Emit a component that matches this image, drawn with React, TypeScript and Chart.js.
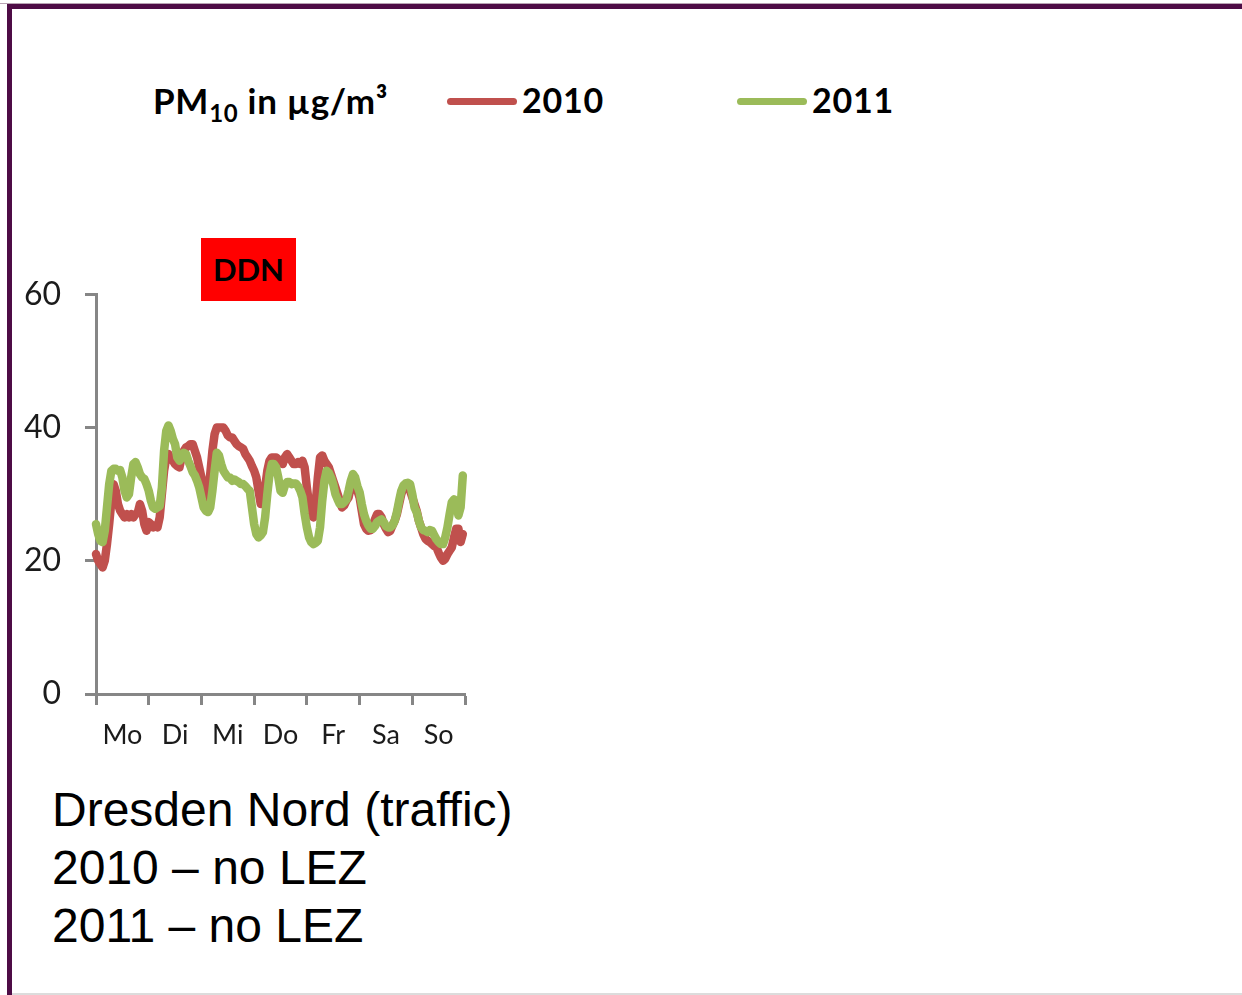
import React, { useEffect, useRef } from "react";
import { Chart, registerables } from "chart.js";

Chart.register(...registerables);

// Day-of-week categories (hour-of-week axis: 0..168)
const DAYS = ["Mo", "Di", "Mi", "Do", "Fr", "Sa", "So"];
const Y_TICKS = [0, 20, 40, 60];

// Hourly mean PM10 (µg/m³), Monday 00h .. Sunday 23h
const PM10_2010 = [
  21, 20, 19.5, 19, 20, 22.5, 25.5, 29, 31.5, 30.5, 28.5, 27.5,
  27, 26.5, 27, 26.5, 27, 26.5, 27, 27.2, 28.5, 27.5, 25.5, 24.5,
  25.8, 25.5, 25, 25.3, 25, 26.5, 30, 33.5, 35.5, 36, 35.3, 35,
  34.5, 34.2, 34, 35.5, 36.5, 37, 37.2, 37.5, 37.5, 36.5, 35.5, 34,
  32.5, 30.5, 29.5, 30, 33, 36.5, 39, 40, 40, 40, 40, 39.5,
  38.8, 38.5, 38.5, 38, 37.5, 37.2, 37, 36.8, 36, 35.5, 35, 34.2,
  33.5, 32.5, 30.5, 28.5, 29, 31, 33.5, 35, 35.5, 35.5, 35.5, 35.2,
  34.8, 34.5, 35.5, 36, 35.5, 35, 34.5, 34.5, 34.8, 34.5, 35, 34,
  31, 28.5, 26.8, 26.5, 28.5, 32.5, 35.5, 35.8, 35, 34.5, 34, 33,
  32, 31, 30, 29, 28, 28.3, 29, 29.5, 31, 32, 31.5, 30.5,
  29.5, 27.5, 25.5, 24.8, 24.5, 24.6, 25.3, 26.2, 27, 27, 26.5, 25.5,
  24.8, 24.3, 24.5, 25.3, 26, 27, 28.5, 30, 31, 31.5, 31.2, 30.5,
  29.5, 28.5, 27.5, 26, 25, 24, 23.3, 23, 22.8, 22.5, 22.2, 22,
  21.2, 20.5, 20, 20.3, 21, 21.5, 22, 23.5, 24.8, 24.8, 22.8, 24,
];

const PM10_2011 = [
  25.5, 24, 23, 22.8, 24.5, 28, 31.5, 33.5, 33.8, 33.8, 33.5, 33.6,
  32.5, 30.5, 29.5, 30, 32.5, 34.5, 34.8, 34, 33, 32.5, 32.3, 31.5,
  30.5, 29, 28, 27.8, 28, 28.2, 31, 36.5, 39.5, 40.3, 39.5, 38.3,
  37.5, 35.5, 35, 35.5, 36.2, 36, 35, 34.2, 33.3, 32.8, 32, 31,
  29.5, 28, 27.5, 27.3, 28, 30.5, 33.5, 36.2, 35.8, 34.5, 33.5, 33,
  32.5, 32.5, 32, 32.2, 32, 31.8, 31.5, 31.5, 31.2, 30.8, 30.5, 28,
  25.5, 24, 23.5, 23.8, 24.3, 26.5, 30, 33, 34.5, 34.5, 34, 32.5,
  30.5, 30.2, 31.3, 31.8, 31.8, 31.5, 31.6, 31.6, 31.2, 30.5, 29.5, 27,
  25, 23.5, 22.8, 22.5, 22.7, 23, 25, 29, 32, 33.5, 33.2, 32.5,
  31.5, 30, 29.2, 28.5, 28.5, 28.8, 29.2, 30.5, 32, 33, 32.5, 31.2,
  30.3, 28.5, 27, 26, 25.3, 24.8, 24.8, 25.2, 25.8, 26, 26.2, 25.8,
  25.2, 25, 25, 25.3, 26, 27.3, 29, 30.5, 31.3, 31.6, 31.7, 31.5,
  30, 28, 27.3, 26, 25, 24.6, 24.5, 24.3, 24.6, 24.5, 23.8, 23.2,
  22.8, 22.5, 22.5, 23.5, 25, 27, 28.8, 29.2, 29, 26.8, 28, 32.8,
];

const SERIES = [
  { label: "2011", values: PM10_2011, color: "#9BBB59" },
  { label: "2010", values: PM10_2010, color: "#C0504D" },
];

const AXIS_GREY = "#868686";
const TEXT = "#1b1b1b";

export default function App() {
  const canvasRef = useRef<HTMLCanvasElement | null>(null);

  useEffect(() => {
    if (!canvasRef.current) return;
    const hoursPerDay = 24;
    const maxHour = DAYS.length * hoursPerDay;
    const xTicks: number[] = [];
    for (let v = 0; v <= maxHour; v += hoursPerDay / 2) xTicks.push(v);

    const chart = new Chart(canvasRef.current, {
      type: "line",
      data: {
        datasets: SERIES.map((s, si) => ({
          label: s.label,
          data: s.values.map((v, i) => ({ x: i, y: v })),
          borderColor: s.color,
          backgroundColor: s.color,
          borderWidth: 8.5,
          pointRadius: 0,
          tension: 0,
          fill: false,
          clip: false as any,
          borderJoinStyle: "round" as const,
          borderCapStyle: "round" as const,
          order: si,
        })),
      },
      options: {
        animation: false,
        responsive: false,
        events: [],
        layout: { padding: { top: 10, right: 10, left: 0, bottom: 0 } },
        plugins: {
          legend: { display: false },
          tooltip: { enabled: false },
        },
        scales: {
          x: {
            type: "linear",
            min: 0,
            max: maxHour,
            afterBuildTicks: (axis: any) => {
              axis.ticks = xTicks.map((v) => ({ value: v }));
            },
            afterFit: (scale: any) => {
              scale.height = 60;
            },
            ticks: {
              autoSkip: false,
              maxRotation: 0,
              minRotation: 0,
              padding: 14,
              color: TEXT,
              font: { family: "Lato", size: 27 },
              callback: (value: any) =>
                Number(value) % hoursPerDay === hoursPerDay / 2
                  ? DAYS[(Number(value) - hoursPerDay / 2) / hoursPerDay]
                  : "",
            },
            grid: {
              drawOnChartArea: false,
              drawTicks: true,
              tickLength: 11,
              tickWidth: 3,
              tickColor: (ctx: any) =>
                ctx.tick && ctx.tick.value % hoursPerDay === 0 ? AXIS_GREY : "rgba(0,0,0,0)",
            },
            border: { display: true, color: AXIS_GREY, width: 3 },
          },
          y: {
            min: 0,
            max: 60,
            afterBuildTicks: (axis: any) => {
              axis.ticks = Y_TICKS.map((v) => ({ value: v }));
            },
            afterFit: (scale: any) => {
              scale.width = 80;
            },
            ticks: {
              padding: 24,
              color: TEXT,
              font: { family: "Lato", size: 32 },
            },
            grid: {
              drawOnChartArea: false,
              drawTicks: true,
              tickLength: 11,
              tickWidth: 3,
              tickColor: AXIS_GREY,
            },
            border: { display: true, color: AXIS_GREY, width: 3 },
          },
        },
      } as any,
    });
    return () => chart.destroy();
  }, []);

  const legendLine = (color: string, left: number) => (
    <div
      style={{
        position: "absolute",
        left,
        top: 98,
        width: 70,
        height: 7,
        borderRadius: 4,
        background: color,
      }}
    />
  );

  const legendText: React.CSSProperties = {
    position: "absolute",
    top: 80,
    fontSize: 34,
    fontWeight: 700,
    color: "#000",
    lineHeight: "40px",
    whiteSpace: "nowrap",
  };

  return (
    <div
      style={{
        position: "absolute",
        left: 0,
        top: 0,
        width: 1242,
        height: 995,
        background: "#ffffff",
        overflow: "hidden",
        fontFamily: "Lato, sans-serif",
      }}
    >
      {/* frame */}
      <div style={{ position: "absolute", left: 0, top: 3, width: 1242, height: 1, background: "#b9a3b4" }} />
      <div style={{ position: "absolute", left: 7, top: 4, width: 1235, height: 5, background: "#4e0c46" }} />
      <div style={{ position: "absolute", left: 7, top: 4, width: 5, height: 991, background: "#4e0c46" }} />
      <div style={{ position: "absolute", left: 12, top: 993, width: 1230, height: 2, background: "#dcdcdc" }} />

      {/* legend */}
      <div style={{ ...legendText, left: 153, fontSize: 35, letterSpacing: 0.7 }}>
        PM<sub style={{ fontSize: 24, verticalAlign: "-8px" }}>10</sub> in µg/m³
      </div>
      {legendLine(SERIES[1].color, 447)}
      <div style={{ ...legendText, left: 522, letterSpacing: 0.8 }}>{SERIES[1].label}</div>
      {legendLine(SERIES[0].color, 737)}
      <div style={{ ...legendText, left: 812, letterSpacing: 0.8 }}>{SERIES[0].label}</div>

      {/* station label */}
      <div
        style={{
          position: "absolute",
          left: 201,
          top: 238,
          width: 95,
          height: 63,
          background: "#ff0000",
          color: "#000",
          fontWeight: 700,
          fontSize: 31,
          lineHeight: "63px",
          textAlign: "center",
        }}
      >
        DDN
      </div>

      {/* chart */}
      <div style={{ position: "absolute", left: 16, top: 251, width: 463, height: 503 }}>
        <canvas ref={canvasRef} width={463} height={503} style={{ width: 463, height: 503 }} />
      </div>

      {/* caption */}
      <div
        style={{
          position: "absolute",
          left: 52,
          top: 781,
          fontFamily: "'Liberation Sans', Arial, sans-serif",
          fontSize: 48,
          lineHeight: "58px",
          color: "#000",
          whiteSpace: "nowrap",
        }}
      >
        <div>Dresden Nord (traffic)</div>
        <div>2010 – no LEZ</div>
        <div>2011 – no LEZ</div>
      </div>
    </div>
  );
}
